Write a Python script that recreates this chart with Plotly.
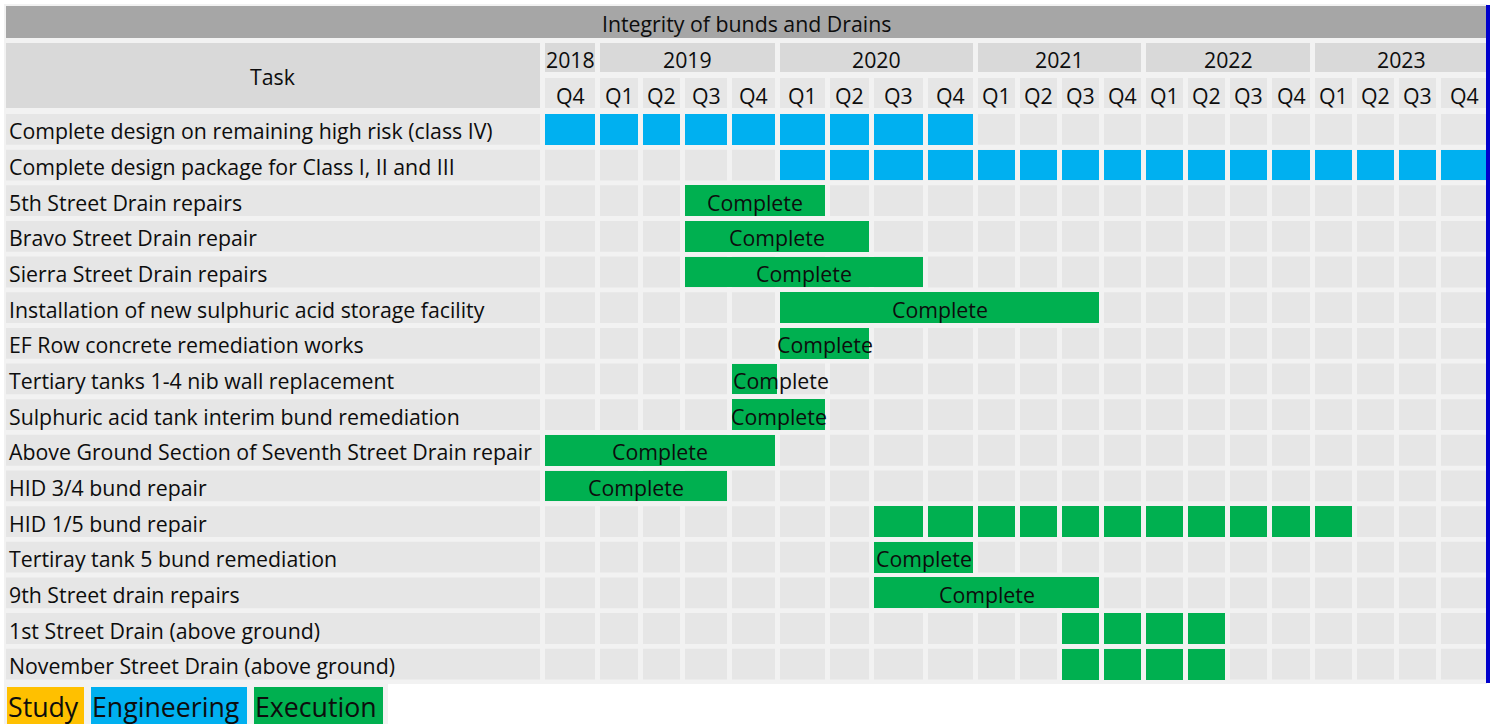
import plotly.graph_objects as go

# ---------------- data ----------------
TITLE = "Integrity of bunds and Drains"
YEARS = ["2018", "2019", "2020", "2021", "2022", "2023"]
QUARTERS = ["Q4",
            "Q1", "Q2", "Q3", "Q4",
            "Q1", "Q2", "Q3", "Q4",
            "Q1", "Q2", "Q3", "Q4",
            "Q1", "Q2", "Q3", "Q4",
            "Q1", "Q2", "Q3", "Q4"]
QUARTER_YEAR = ["2018",
                "2019", "2019", "2019", "2019",
                "2020", "2020", "2020", "2020",
                "2021", "2021", "2021", "2021",
                "2022", "2022", "2022", "2022",
                "2023", "2023", "2023", "2023"]

TASKS = [
    "Complete design on remaining high risk (class IV)",
    "Complete design package for Class I, II and III",
    "5th Street Drain repairs",
    "Bravo Street Drain repair",
    "Sierra Street Drain repairs",
    "Installation of new sulphuric acid storage facility",
    "EF Row concrete remediation works",
    "Tertiary tanks 1-4 nib wall replacement",
    "Sulphuric acid tank interim bund remediation",
    "Above Ground Section of Seventh Street Drain repair",
    "HID 3/4 bund repair",
    "HID 1/5 bund repair",
    "Tertiray tank 5 bund remediation",
    "9th Street drain repairs",
    "1st Street Drain (above ground)",
    "November Street Drain (above ground)",
]
PHASE = ["Engineering", "Engineering", "Execution", "Execution", "Execution",
         "Execution", "Execution", "Execution", "Execution", "Execution",
         "Execution", "Execution", "Execution", "Execution", "Execution",
         "Execution"]
# start / end quarter (index into QUARTERS, inclusive)
START_Q = [0, 5, 3, 3, 3, 5, 5, 4, 4, 0, 0, 7, 7, 7, 11, 11]
END_Q = [8, 20, 5, 6, 7, 11, 6, 4, 5, 4, 3, 17, 8, 11, 14, 14]
STATUS = ["", "", "Complete", "Complete", "Complete", "Complete", "Complete",
          "Complete", "Complete", "Complete", "Complete", "", "Complete",
          "Complete", "", ""]
LEGEND = ["Study", "Engineering", "Execution"]

# ---------------- styling / layout ----------------
COLORS = {"Study": "#ffc000", "Engineering": "#00b0f0", "Execution": "#00b050"}
FONT = "Open Sans"
FS = 21.3
W, H = 1493, 724
COL_WIDTHS = [50, 38, 37, 42, 43, 45, 39, 49, 45, 37, 37, 37, 37, 37, 37, 37,
              38, 37, 37, 37, 46]
GAP = 5
GRID_X0 = 545
LABEL_X0, LABEL_X1 = 6, 540
ROW_TOP0, ROW_PITCH, ROW_H = 114, 35.65, 30.8

col_left = []
x = GRID_X0
for w in COL_WIDTHS:
    col_left.append(x)
    x += w + GAP
col_right = [l + w for l, w in zip(col_left, COL_WIDTHS)]
GRID_X1 = col_right[-1]


def row_top(i):
    return ROW_TOP0 + i * ROW_PITCH


shapes = []


def rect(x0, y0, x1, y1, color, layer="below"):
    shapes.append(dict(type="rect", xref="x", yref="y", x0=x0, x1=x1, y0=y0,
                       y1=y1, fillcolor=color, line=dict(width=0), layer=layer))


annotations = []


def text(xp, yp, s, size=FS, anchor="center", color="#0d0d0d"):
    annotations.append(dict(x=xp, y=yp, xref="x", yref="y", text=s,
                            showarrow=False, xanchor=anchor, yanchor="middle",
                            font=dict(family=FONT, size=size, color=color)))


# background
rect(4, 4, GRID_X1, 684, "#f2f2f2")
rect(4, 684, 388, H, "#f2f2f2")
# title bar
rect(LABEL_X0, 6, GRID_X1, 38, "#a6a6a6")
text((LABEL_X0 + GRID_X1) / 2, 23, TITLE)
# task header
rect(LABEL_X0, 43, LABEL_X1, 108, "#d9d9d9")
text((LABEL_X0 + LABEL_X1) / 2, 76, "Task")
# year headers
for yr in YEARS:
    idx = [i for i, q in enumerate(QUARTER_YEAR) if q == yr]
    x0, x1 = col_left[idx[0]], col_right[idx[-1]]
    rect(x0, 43, x1, 72, "#d9d9d9")
    text((x0 + x1) / 2, 59, yr)
# quarter headers
for i, q in enumerate(QUARTERS):
    rect(col_left[i], 78, col_right[i], 108, "#e6e6e6")
    text((col_left[i] + col_right[i]) / 2, 95, q)

# task rows background
for r, task in enumerate(TASKS):
    y0 = row_top(r)
    rect(LABEL_X0, y0, LABEL_X1, y0 + ROW_H, "#e6e6e6")
    text(LABEL_X0 + 0.5, y0 + ROW_H / 2 + 1.5, task, anchor="left")
    for i in range(len(QUARTERS)):
        rect(col_left[i], y0, col_right[i], y0 + ROW_H, "#e6e6e6")

# right blue border
rect(1486, 5, 1490, 683, "#0000cc", layer="above")

# ---------------- bars (data marks) ----------------
fig = go.Figure()
for phase in ["Engineering", "Execution"]:
    bx, bbase, by = [], [], []
    for r in range(len(TASKS)):
        if PHASE[r] != phase:
            continue
        yc = row_top(r) + ROW_H / 2
        if STATUS[r]:
            # merged block
            x0, x1 = col_left[START_Q[r]], col_right[END_Q[r]]
            if START_Q[r] == END_Q[r]:
                x1 += 2
            bbase.append(x0); bx.append(x1 - x0); by.append(yc)
            if START_Q[r] == END_Q[r]:
                text(x0 - 1, yc + 1.5, STATUS[r], anchor="left")
            else:
                text((x0 + x1) / 2, yc + 1.5, STATUS[r])
        else:
            for q in range(START_Q[r], END_Q[r] + 1):
                x0, x1 = col_left[q], col_right[q]
                bbase.append(x0); bx.append(x1 - x0); by.append(yc)
    fig.add_trace(go.Bar(x=bx, base=bbase, y=by, orientation="h", width=ROW_H,
                         marker=dict(color=COLORS[phase], line=dict(width=0)),
                         name=phase, showlegend=False, hoverinfo="skip"))

# legend boxes
leg_x = [(7, 84), (91, 247), (254, 383)]
for name, (x0, x1) in zip(LEGEND, leg_x):
    fig.add_trace(go.Bar(x=[x1 - x0], base=[x0], y=[705.5], orientation="h",
                         width=37, marker=dict(color=COLORS[name], line=dict(width=0)),
                         showlegend=False, hoverinfo="skip"))
    text(x0 - 1, 706, name, size=26.7, anchor="left")

fig.update_layout(
    width=W, height=H, margin=dict(l=0, r=0, t=0, b=0),
    paper_bgcolor="white", plot_bgcolor="white",
    barmode="overlay", bargap=0,
    xaxis=dict(range=[0, W], visible=False, fixedrange=True),
    yaxis=dict(range=[H, 0], visible=False, fixedrange=True),
    shapes=shapes, annotations=annotations,
)
fig.write_html("out.html", config={"displayModeBar": False},
               post_script="document.body.style.margin='0';"
                           "document.body.style.overflow='hidden';")
